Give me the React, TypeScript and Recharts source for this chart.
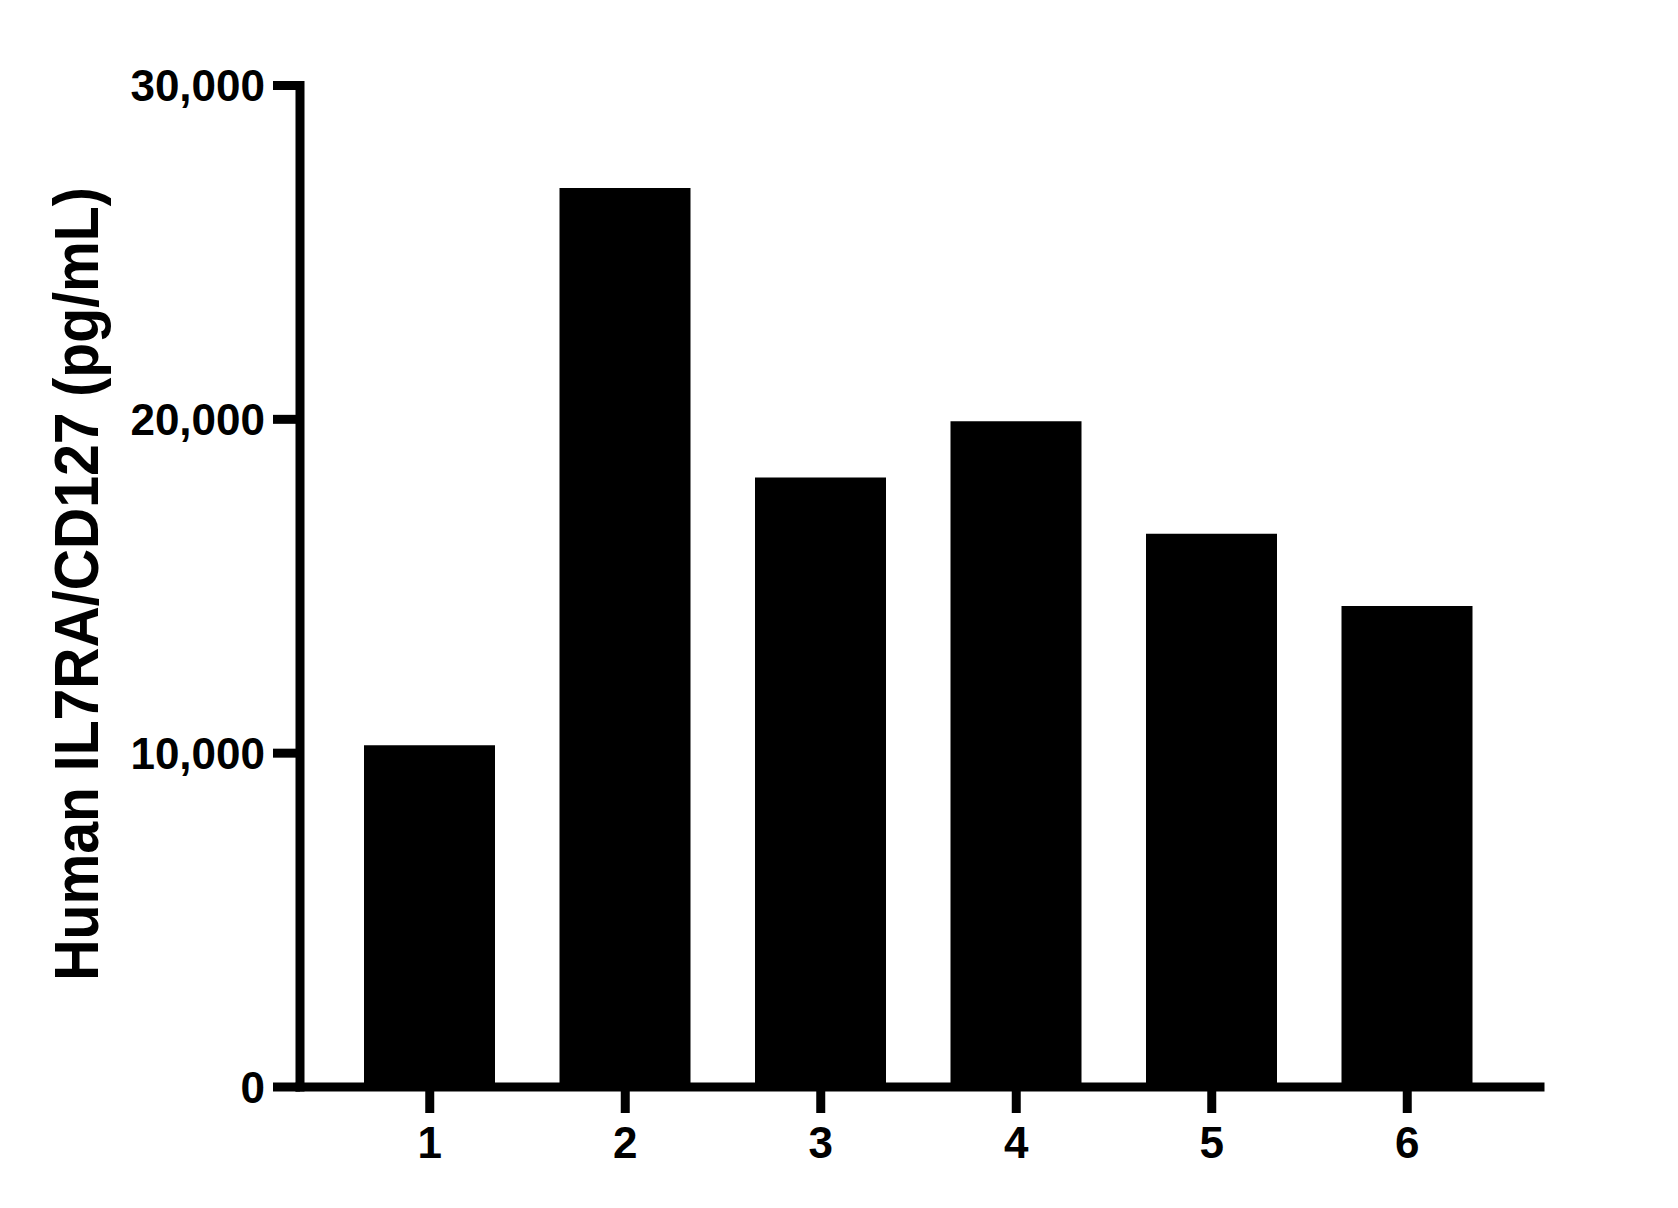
import React from "react";
import { BarChart, Bar, XAxis, YAxis } from "recharts";

const categories = ["1", "2", "3", "4", "5", "6"];
const values = [10240, 26930, 18260, 19940, 16570, 14410];
const yTicks = [0, 10000, 20000, 30000];
const yLabel = "Human IL7RA/CD127 (pg/mL)";

const data = categories.map((c, i) => ({ name: c, value: values[i] }));

const FONT = "'Liberation Sans', Arial, sans-serif";

const YLabel = () => (
  <text
    transform="translate(98, 584) rotate(-90) scale(0.985, 1.08)"
    x={0}
    y={0}
    textAnchor="middle"
    fontFamily={FONT}
    fontWeight="bold"
    fontSize={58}
    fill="#000"
  >
    {yLabel}
  </text>
);

export default function App() {
  return (
    <div style={{ position: "absolute", left: 0, top: 0, width: 1678, height: 1208, background: "#fff" }}>
      <BarChart
        width={1678}
        height={1208}
        data={data}
        margin={{ top: 85.5, right: 138, bottom: 0, left: 0 }}
        barSize={131}
      >
        <XAxis
          dataKey="name"
          height={121}
          padding={{ left: 32, right: 35 }}
          axisLine={{ stroke: "#000", strokeWidth: 9, strokeLinecap: "square" }}
          tickLine={{ stroke: "#000", strokeWidth: 9 }}
          tickSize={26}
          tickMargin={14}
          tick={{ fill: "#000", fontFamily: FONT, fontWeight: "bold", fontSize: 44 }}
        />
        <YAxis
          width={300}
          domain={[0, 30000]}
          ticks={yTicks}
          interval={0}
          tickFormatter={(v: number) => v.toLocaleString("en-US")}
          axisLine={{ stroke: "#000", strokeWidth: 9, strokeLinecap: "square" }}
          tickLine={{ stroke: "#000", strokeWidth: 9 }}
          tickSize={27}
          tickMargin={8}
          tick={{ fill: "#000", fontFamily: FONT, fontWeight: "bold", fontSize: 44 }}
          label={{ content: () => <YLabel /> }}
        />
        <Bar dataKey="value" fill="#000" isAnimationActive={false} />
      </BarChart>
    </div>
  );
}
